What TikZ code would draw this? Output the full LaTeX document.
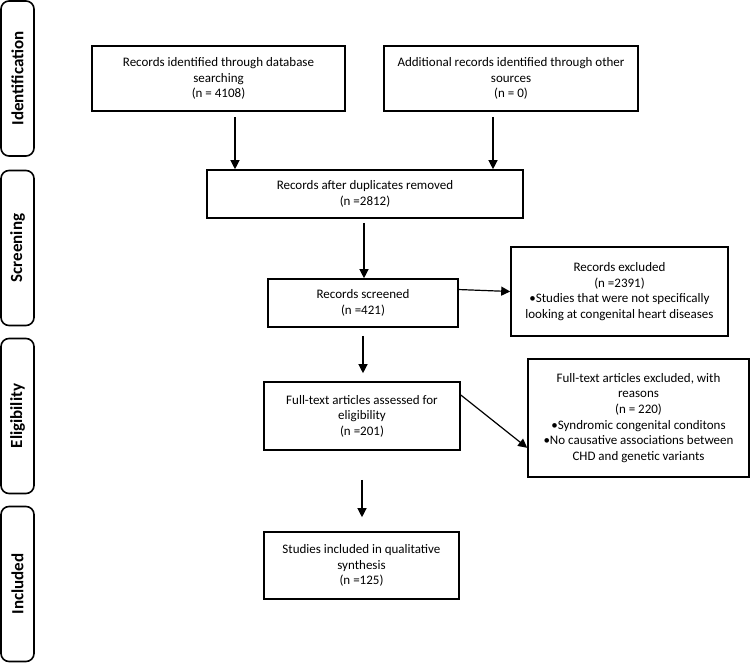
\documentclass[tikz,border=0pt]{standalone}
\usepackage{fontspec}
\setmainfont{Carlito}
\usepackage{tikz}
\usetikzlibrary{arrows.meta}

\begin{document}
\begin{tikzpicture}[x=1pt,y=-1pt]
                \tikzset{Box/.style={%
                    shape=rectangle,%
                    draw=black,%
                    line width=1.6pt,%
                    inner sep=0pt,%
                    align=center,%
                    font=\fontsize{13}{15.6}\selectfont,%
                }}
                \tikzset{Stage/.style={%
                    shape=rectangle,%
                    draw=black,%
                    line width=1.6pt,%
                    rounded corners=8pt,%
                    rotate=90,%
                    minimum width=155pt,%
                    minimum height=33pt,%
                    inner sep=0pt,%
                    font=\fontsize{17}{20}\selectfont\bfseries,%
                }}
                \tikzset{Arrow/.style={%
                    draw=black,%
                    line width=1.2pt,%
                    -{Triangle[length=9pt,width=9pt]},%
                }}
                \useasboundingbox (0,0) rectangle (750,663);

                % stages
                \node[Stage] (sid) at (17.5,78.5) {Identification};
                \node[Stage] (ssc) at (17.5,248) {Screening};
                \node[Stage] (sel) at (17.5,416) {Eligibility};
                \node[Stage] (sin) at (17.5,584) {Included};

                % boxes
                \node[Box, minimum width=253pt, minimum height=65pt] (db) at (218.5,78.5)
                    {Records identified through database\\searching\\(n = 4108)};
                \node[Box, minimum width=254pt, minimum height=65pt] (oth) at (511,78.5)
                    {Additional records identified through other\\sources\\(n = 0)};
                \node[Box, minimum width=316pt, minimum height=48pt] (dup) at (365,194)
                    {Records after duplicates removed\\(n =2812)};
                \node[Box, minimum width=190pt, minimum height=48pt] (scr) at (363,303)
                    {Records screened\\(n =421)};
                \node[Box, minimum width=217pt, minimum height=89pt] (exc) at (619.5,291.5)
                    {Records excluded\\(n =2391)\\•Studies that were not specifically\\looking at congenital heart diseases};
                \node[Box, minimum width=196pt, minimum height=68pt] (full) at (362,416)
                    {Full-text articles assessed for\\eligibility\\(n =201)};
                \node[Box, minimum width=221pt, minimum height=118pt] (rsn) at (638.5,418)
                    {Full-text articles excluded, with\\reasons\\(n = 220)\\•Syndromic congenital conditons\\•No causative associations between\\CHD and genetic variants};
                \node[Box, minimum width=195pt, minimum height=67pt] (inc) at (361.5,565.5)
                    {Studies included in qualitative\\synthesis\\(n =125)};

                % connectors
                \coordinate (c1) at (235,117);
                \coordinate (c2) at (493,117);
                \draw[Arrow] (c1) -- (c1 |- dup.north);
                \draw[Arrow] (c2) -- (c2 |- dup.north);
                \draw[Arrow, shorten <=4pt] (dup.south -| 364,0) -- (364,0 |- scr.north);
                \draw[Arrow] (scr.8) -- (exc.west);
                \draw[Arrow, shorten <=8pt, shorten >=8pt] (scr.south) -- (scr.south |- full.north);
                \draw[Arrow] (full.12) -- (rsn.195);
                \draw[Arrow, shorten <=29pt, shorten >=14pt] (full.south) -- (full.south |- inc.north);
            \end{tikzpicture}
\end{document}
